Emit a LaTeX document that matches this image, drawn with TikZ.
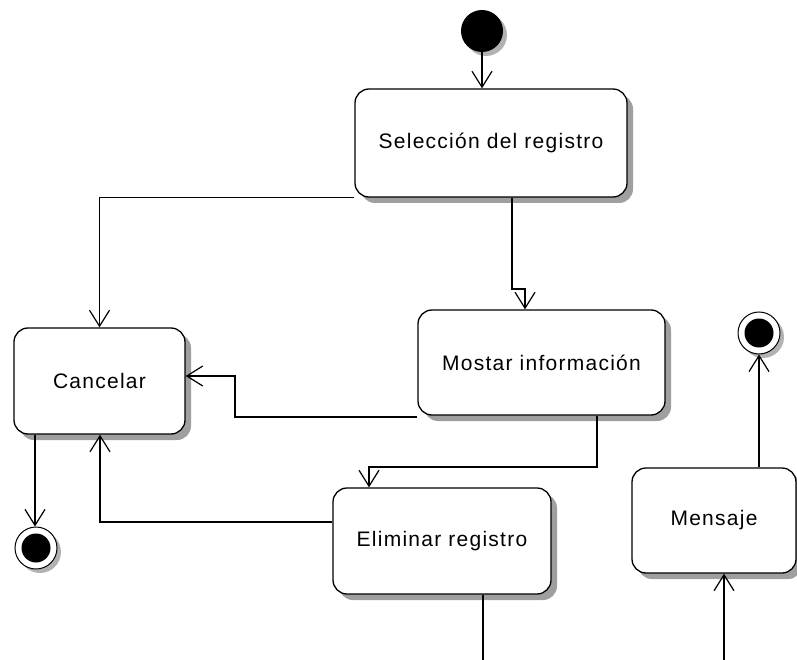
\documentclass[tikz,border=0pt]{standalone}
\usepackage{fontspec}
\setmainfont{Liberation Sans}[LetterSpace=6]
\usetikzlibrary{arrows.meta,shadows,calc}
\begin{document}
\begin{tikzpicture}[x=1pt,y=-1pt,
  act/.style={draw=black,line width=1.3pt,fill=white,rounded corners=14pt,
    font=\fontsize{21}{24}\selectfont,
    drop shadow={shadow xshift=6pt,shadow yshift=-6pt,fill=gray!75,opacity=1}},
  conn/.style={line width=1.3pt,-{Straight Barb[length=16pt,width=20pt,line width=1.2pt]}},
  plain/.style={line width=1.3pt},
  initst/.style={circle,fill=black,minimum size=42pt,inner sep=0pt,
    drop shadow={shadow xshift=4pt,shadow yshift=-4pt,fill=gray!60,opacity=1}},
  finalst/.style={circle,draw=black,line width=1pt,fill=white,minimum size=42pt,inner sep=0pt,
    path picture={\fill[black] (path picture bounding box.center) circle (14.5pt);},
    drop shadow={shadow xshift=4pt,shadow yshift=-4pt,fill=gray!60,opacity=1}}]
\useasboundingbox (0,0) rectangle (797,660);

\node[initst] (init) at (482,31) {};
\node[act,minimum width=272pt,minimum height=108pt] (sel) at (491,143) {Selección del registro};
\node[act,minimum width=171pt,minimum height=106pt] (can) at (99.5,381) {Cancelar};
\node[act,minimum width=247pt,minimum height=105pt] (mos) at (541.5,362.5) {Mostar información};
\node[act,minimum width=218pt,minimum height=106pt] (eli) at (442,541) {Eliminar registro};
\node[act,minimum width=164pt,minimum height=105pt] (men) at (714,520.5) {Mensaje};
\node[finalst] (fin1) at (36,548) {};
\node[finalst] (fin2) at (759,333) {};

\coordinate (xa) at (512,289);
\coordinate (xb) at (525,289);
\coordinate (xc) at (235,417);
\coordinate (xd) at (235,376);
\coordinate (xe) at (597,467);
\coordinate (xf) at (369,467);
\coordinate (xg) at (100,522);
\coordinate (xh) at (483,660);
\coordinate (xi) at (724,660);
\coordinate (xj) at (35,0);

\draw[conn] (init) -- (init |- sel.north);
\draw[conn] (sel.south west) -- (can.north |- sel.south west) -- (can.north);
\draw[conn] (sel.south -| xa) -- (xa) -- (xb) -- (mos.north -| xb);
\draw[conn] (mos.south west |- xc) -- (xc) -- (xd) -- (can.east |- xd);
\draw[conn] (mos.south -| xe) -- (xe) -- (xf) -- (eli.north -| xf);
\draw[conn] (eli.west |- xg) -- (xg) -- (can.south -| xg);
\draw[plain] (eli.south -| xh) -- (xh);
\draw[conn] (xi) -- (men.south -| xi);
\draw[conn] (men.north -| fin2) -- (fin2.south);
\draw[conn] (can.south -| xj) -- (fin1.north -| xj);
\end{tikzpicture}
\end{document}
